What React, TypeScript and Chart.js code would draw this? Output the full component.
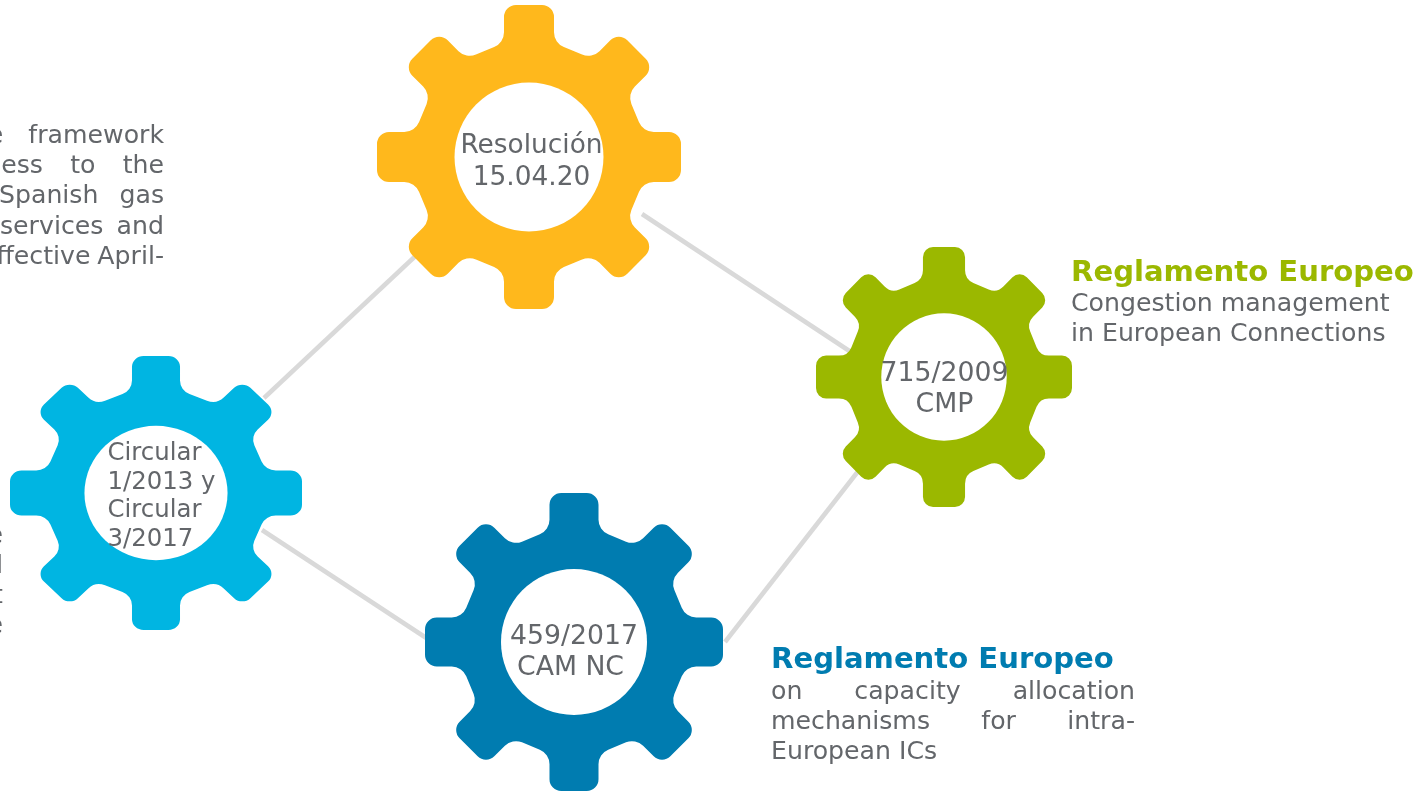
import React, { useEffect, useRef } from "react";
import { Chart, registerables } from "chart.js";

Chart.register(...registerables);

// ---- data ----
const gearCentreX = [529, 156, 574, 944];
const gearCentreY = [157, 493, 642, 377];
const gearRadiusX = [152, 146, 149, 128];
const gearRadiusY = [152, 137, 149, 130];
const gearColours = ["#FFB81C", "#00B5E2", "#007CB0", "#9BB800"];

const linkX = [[264, 440], [642, 860], [262, 440], [725, 870]];
const linkY = [[398, 233], [214, 358], [530, 647], [642, 456]];

const gearLabels = [
  ["Resolución", "15.04.20"],
  ["Circular", "1/2013 y", "Circular", "3/2017"],
  ["459/2017", "CAM NC"],
  ["715/2009", "CMP"],
];
const headings = ["Reglamento Europeo", "Reglamento Europeo"];
const greenBody = ["Congestion management", "in European Connections"];
const blueBody = ["on capacity allocation", "mechanisms for intra-", "European ICs"];
const leftTopBody = ["the framework", "access to the", "Spanish gas", "services and", "effective April-"];
const leftLowBody = ["e", "d", "t", "e"];

// ---- layout ----
const TEXT = "#63666A";
const FONT = '"DejaVu Sans", Verdana, sans-serif';
const W = 1428;
const H = 792;
const HOLE = 0.49;

function gearImage(rx: number, ry: number, colour: string, holeR: number) {
  const c = document.createElement("canvas");
  c.width = Math.ceil(rx) * 2 + 2;
  c.height = Math.ceil(ry) * 2 + 2;
  const g = c.getContext("2d")!;
  g.translate(c.width / 2, c.height / 2);
  g.scale(rx / 152, ry / 152);
  const verts: { x: number; y: number; r: number }[] = [];
  for (let k = 0; k < 8; k++) {
    const a = (k * Math.PI) / 4;
    const cs = Math.cos(a);
    const sn = Math.sin(a);
    const rot = (x: number, y: number) => ({ x: x * cs - y * sn, y: x * sn + y * cs });
    const a2 = ((k + 1) * Math.PI) / 4;
    const c2 = Math.cos(a2);
    const s2 = Math.sin(a2);
    verts.push({ ...rot(-25, -152), r: 12 });
    verts.push({ ...rot(25, -152), r: 12 });
    verts.push({ ...rot(25, -114), r: 16 });
    verts.push({ x: -25 * c2 + 114 * s2, y: -25 * s2 - 114 * c2, r: 16 });
  }
  const n = verts.length;
  g.beginPath();
  const first = verts[0];
  const last = verts[n - 1];
  g.moveTo((first.x + last.x) / 2, (first.y + last.y) / 2);
  for (let i = 0; i < n; i++) {
    const v = verts[i];
    const nx = verts[(i + 1) % n];
    g.arcTo(v.x, v.y, nx.x, nx.y, v.r);
  }
  g.closePath();
  g.fillStyle = colour;
  g.fill();
  g.beginPath();
  g.arc(0, 0, holeR, 0, Math.PI * 2);
  g.fillStyle = "#FFFFFF";
  g.fill();
  return c;
}

function justified(g: CanvasRenderingContext2D, line: string, x0: number, x1: number, y: number) {
  const words = line.split(" ");
  const total = words.reduce((s, w) => s + g.measureText(w).width, 0);
  const gap = words.length > 1 ? (x1 - x0 - total) / (words.length - 1) : 0;
  let x = x0;
  g.textAlign = "left";
  for (const w of words) {
    g.fillText(w, x, y);
    x += g.measureText(w).width + gap;
  }
}

const textPlugin = {
  id: "textLayer",
  afterDatasetsDraw(chart: any) {
    const g: CanvasRenderingContext2D = chart.ctx;
    const sx = chart.scales.x;
    const sy = chart.scales.y;
    const px = (v: number) => sx.getPixelForValue(v);
    const py = (v: number) => sy.getPixelForValue(v);
    g.save();
    g.textBaseline = "alphabetic";
    g.fillStyle = TEXT;

    // inside the gears
    g.font = `26.4px ${FONT}`;
    g.textAlign = "center";
    gearLabels[0].forEach((t, i) => g.fillText(t, px(531.5), py(153 + i * 32)));
    g.font = `26.7px ${FONT}`;
    gearLabels[2].forEach((t, i) => g.fillText(t, px(i ? 570.5 : 574), py(644 + i * 31)));
    gearLabels[3].forEach((t, i) => g.fillText(t, px(944.5), py(381 + i * 31)));
    g.font = `24.4px ${FONT}`;
    g.textAlign = "left";
    gearLabels[1].forEach((t, i) => g.fillText(t, px(107.5), py(460 + i * 28.7)));

    // left clipped blocks
    g.font = `25.2px ${FONT}`;
    const topX0 = [-38, -42, -1, 0, -19];
    leftTopBody.forEach((t, i) => justified(g, t, px(topX0[i]), px(164), py(143 + i * 30.2)));
    g.textAlign = "right";
    leftLowBody.forEach((t, i) => g.fillText(t, px(3), py(543 + i * 30)));

    // green note
    g.textAlign = "left";
    g.font = `bold 29.1px ${FONT}`;
    g.fillStyle = gearColours[3];
    g.fillText(headings[0], px(1071), py(281));
    g.font = `25.2px ${FONT}`;
    g.fillStyle = TEXT;
    greenBody.forEach((t, i) => g.fillText(t, px(1071), py(311 + i * 30)));

    // blue note
    g.font = `bold 29.1px ${FONT}`;
    g.fillStyle = gearColours[2];
    g.fillText(headings[1], px(771), py(668));
    g.font = `25.2px ${FONT}`;
    g.fillStyle = TEXT;
    justified(g, blueBody[0], px(771), px(1135), py(699));
    justified(g, blueBody[1], px(771), px(1135), py(729));
    g.textAlign = "left";
    g.fillText(blueBody[2], px(771), py(759));
    g.restore();
  },
};

export default function App() {
  const ref = useRef<HTMLCanvasElement>(null);
  useEffect(() => {
    const images = gearCentreX.map((_, i) =>
      gearImage(gearRadiusX[i], gearRadiusY[i], gearColours[i], 152 * HOLE)
    );
    const linkSets = linkX.map((xs, i) => ({
      type: "scatter" as const,
      showLine: true,
      data: xs.map((x, j) => ({ x, y: linkY[i][j] })),
      borderColor: "#D9D9D9",
      borderWidth: 4.5,
      pointRadius: 0,
      order: 2,
      clip: false,
    }));
    const chart = new Chart(ref.current!, {
      type: "scatter",
      data: {
        datasets: [
          {
            data: gearCentreX.map((x, i) => ({ x, y: gearCentreY[i] })),
            pointStyle: images as any,
            pointRadius: 10,
            order: 1,
            clip: false,
          } as any,
          ...linkSets,
        ],
      },
      options: {
        animation: false,
        responsive: false,
        layout: { padding: 0, autoPadding: false },
        events: [],
        plugins: { legend: { display: false }, tooltip: { enabled: false } },
        scales: {
          x: { type: "linear", min: 0, max: W, display: false },
          y: { type: "linear", min: 0, max: H, reverse: true, display: false },
        },
      },
      plugins: [textPlugin],
    });
    return () => chart.destroy();
  }, []);
  return (
    <div style={{ position: "fixed", left: 0, top: 0, width: W, height: H, background: "#fff" }}>
      <canvas ref={ref} width={W} height={H} style={{ display: "block" }} />
    </div>
  );
}
